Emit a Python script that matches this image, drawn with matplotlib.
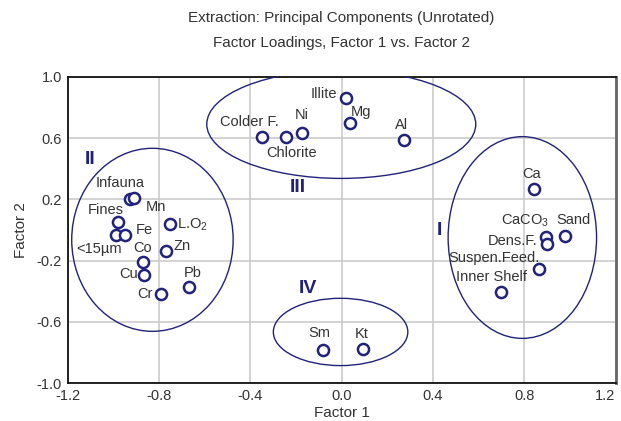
import numpy as np
import matplotlib
matplotlib.use("Agg")
import matplotlib.pyplot as plt
from matplotlib.patches import Ellipse

plt.rcParams['font.family'] = ['Liberation Sans Narrow', 'Liberation Sans', 'DejaVu Sans']

# variable names and loadings
names = ['Infauna', 'Mn', 'Fines', '<15\u00b5m', 'Fe', 'L.O$_{\\mathregular{2}}$', 'Zn', 'Co', 'Cu', 'Pb', 'Cr',
         'Ca', 'CaCO$_{\\mathregular{3}}$', 'Dens.F.', 'Sand', 'Suspen.Feed.', 'Inner Shelf',
         'Illite', 'Mg', 'Al', 'Colder F.', 'Chlorite', 'Ni',
         'Sm', 'Kt']
factor1 = [-0.925, -0.908, -0.981, -0.986, -0.947, -0.749, -0.768, -0.871, -0.863, -0.667, -0.791,
           0.843, 0.895, 0.899, 0.978, 0.863, 0.697,
           0.018, 0.039, 0.272, -0.348, -0.243, -0.174,
           -0.082, 0.095]
factor2 = [0.202, 0.207, 0.054, -0.035, -0.031, 0.041, -0.139, -0.209, -0.294, -0.370, -0.419,
           0.269, -0.046, -0.091, -0.041, -0.252, -0.406,
           0.859, 0.700, 0.589, 0.605, 0.605, 0.631,
           -0.783, -0.778]

# label offsets in pixels (dx, dy)
label_dx = [-10, 22, -12, -17, 19, 22, 16, 0, -16, 3, -16,
            -2, -21, -34, 9, -45, -9,
            -22, 11, -2, -13, 6, 0,
            -3, -2]
label_dy = [16, -9, 12, -14, 5, -1, 5, 14, 1, 14, 0,
            15, 16, 3, 16, 11, 15,
            4, 11, 15, 15, -16, 18,
            17, 15]

# groups: roman label, label pos, ellipse center, width, height
groups = ['I', 'II', 'III', 'IV']
group_x = [0.43, -1.10, -0.19, -0.145]
group_y = [0.0, 0.46, 0.275, -0.38]
ell_x = [0.792, -0.828, -0.001, -0.004]
ell_y = [-0.049, -0.064, 0.69, -0.665]
ell_w = [0.65, 0.707, 1.178, 0.589]
ell_h = [1.316, 1.194, 0.707, 0.439]

navy = '#22227a'
txt = '#333333'

fig = plt.figure(figsize=(6.21, 4.21), dpi=100)
ax = fig.add_axes([67.5/621, 1-383.3/421, 548/621, 306.6/421])

ax.set_xlim(-1.2, 1.2)
ax.set_ylim(-1.0, 1.0)
xt = [-1.2, -0.8, -0.4, 0.0, 0.4, 0.8, 1.2]
yt = [-1.0, -0.6, -0.2, 0.2, 0.6, 1.0]
ax.set_xticks(xt)
ax.set_xticklabels(['%.1f' % v for v in xt])
ax.set_yticks(yt)
ax.set_yticklabels(['%.1f' % v for v in yt])
ax.tick_params(length=0, labelsize=10.5, colors=txt, pad=4)
# last x label hugs the right edge like the original
ax.get_xticklabels()[-1].set_horizontalalignment('right')
ax.grid(True, color='#cccccc', lw=1.2)
ax.set_axisbelow(True)
for s in ['left', 'top', 'bottom']:
    ax.spines[s].set_color('#111111')
    ax.spines[s].set_linewidth(1.3)
ax.spines['right'].set_color('#666666')
ax.spines['right'].set_linewidth(2)

for i in range(len(groups)):
    ax.add_patch(Ellipse((ell_x[i], ell_y[i]), ell_w[i], ell_h[i], fill=False,
                         ec=navy, lw=1.0, zorder=3))
    ax.text(group_x[i], group_y[i], groups[i], color=navy, fontsize=14,
            fontweight='bold', ha='center', va='center', zorder=4)

ax.plot(factor1, factor2, 'o', ms=8, mfc='white', mec=navy, mew=1.8, zorder=5)

for i in range(len(names)):
    ax.annotate(names[i], (factor1[i], factor2[i]), xytext=(label_dx[i], label_dy[i]),
                textcoords='offset pixels', ha='center', va='center',
                fontsize=10.5, color=txt, zorder=6)

ax.set_xlabel('Factor 1', fontsize=11, color=txt, labelpad=2)
ax.set_ylabel('Factor 2', fontsize=11, color=txt, labelpad=6)

fig.text(341.5/621, 1-18/421, 'Extraction: Principal Components (Unrotated)',
         ha='center', va='center', fontsize=11, color=txt)
fig.text(341.5/621, 1-43/421, 'Factor Loadings, Factor 1 vs. Factor 2',
         ha='center', va='center', fontsize=11, color=txt)

fig.savefig('out.png', dpi=100)
